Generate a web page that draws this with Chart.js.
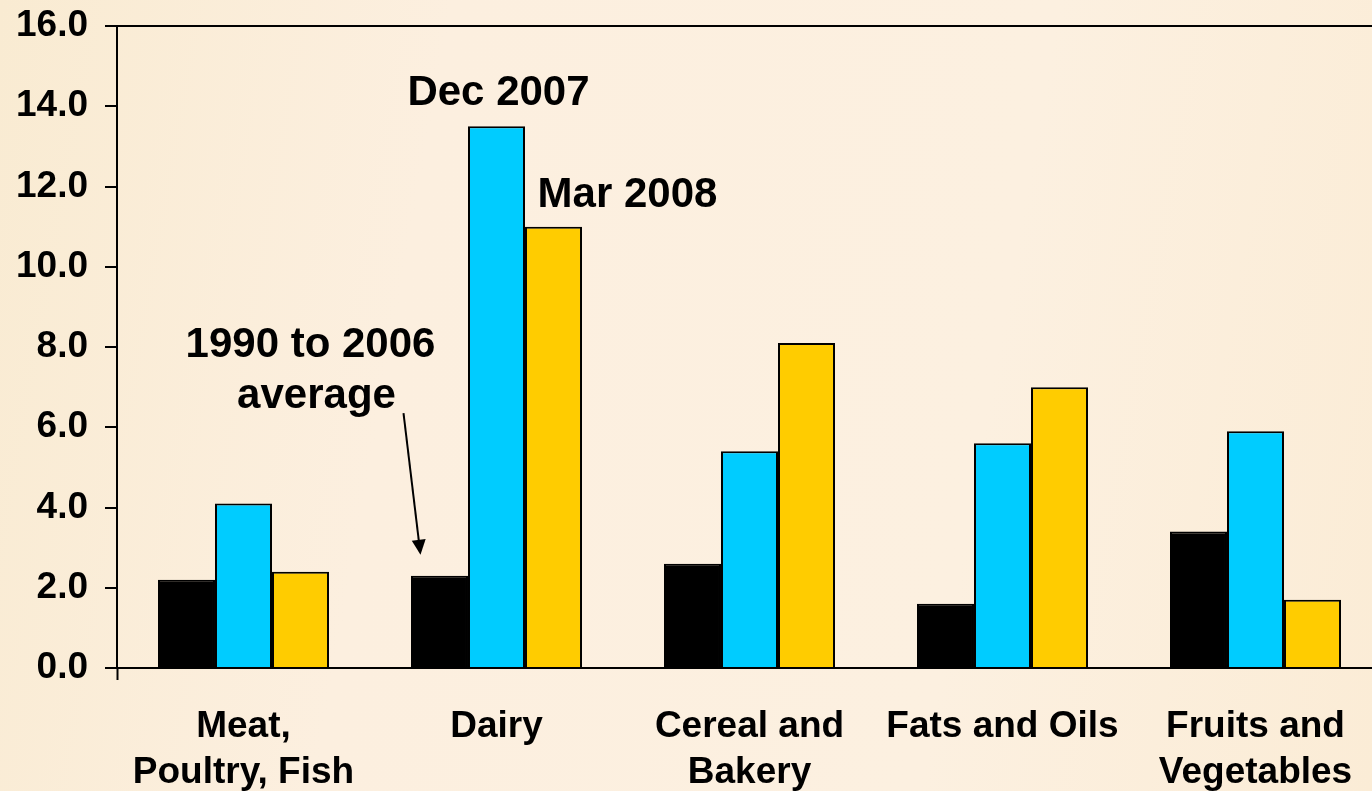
<!DOCTYPE html>
<html>
<head>
<meta charset="utf-8">
<script src="https://cdn.jsdelivr.net/npm/chart.js@4.4.1/dist/chart.umd.min.js"></script>
<style>
  html, body { margin: 0; padding: 0; overflow: hidden; }
  body {
    width: 1372px; height: 791px;
    background: linear-gradient(100deg, #f9ebd2 0%, #fcefdf 30%, #fcf0e0 70%, #fbecd6 100%);
  }
  #wrap { width: 1372px; height: 791px; overflow: hidden; }
</style>
</head>
<body>
<div id="wrap"><canvas id="chart" width="1400" height="791"></canvas></div>
<script>
const categories = [['Meat,', 'Poultry, Fish'], 'Dairy', ['Cereal and', 'Bakery'], 'Fats and Oils', ['Fruits and', 'Vegetables']];
const avg1990to2006 = [2.2, 2.3, 2.6, 1.6, 3.4];
const dec2007 = [4.1, 13.5, 5.4, 5.6, 5.9];
const mar2008 = [2.4, 11.0, 8.1, 7.0, 1.7];
const yTicks = [0, 2, 4, 6, 8, 10, 12, 14, 16];

const FONT = '"Liberation Sans", Arial, sans-serif';

// text callouts drawn on top of the plot
const annotate = {
    id: 'annotate',
    afterDraw(chart) {
        const { ctx, scales: { x, y } } = chart;
        const cx = i => x.getPixelForValue(i);
        ctx.save();
        ctx.fillStyle = '#000';
        ctx.font = 'bold 42px ' + FONT;
        ctx.textAlign = 'center';
        ctx.textBaseline = 'alphabetic';
        ctx.fillText('Dec 2007', cx(1) + 2, y.getPixelForValue(14.03));
        ctx.fillText('Mar 2008', cx(1) + 131, y.getPixelForValue(11.49));
        ctx.fillText('1990 to 2006', cx(0) + 67, y.getPixelForValue(7.75));
        ctx.fillText('average', cx(0) + 73, y.getPixelForValue(6.48));

        // arrow
        const x0 = cx(0) + 160, y0 = y.getPixelForValue(6.35);
        const x1 = cx(0) + 177, y1 = y.getPixelForValue(2.82);
        const ang = Math.atan2(y1 - y0, x1 - x0);
        ctx.strokeStyle = '#000';
        ctx.lineWidth = 2;
        ctx.beginPath();
        ctx.moveTo(x0, y0);
        ctx.lineTo(x1 - 12 * Math.cos(ang), y1 - 12 * Math.sin(ang));
        ctx.stroke();
        ctx.beginPath();
        ctx.moveTo(x1, y1);
        ctx.lineTo(x1 - 15 * Math.cos(ang) + 7 * Math.sin(ang), y1 - 15 * Math.sin(ang) - 7 * Math.cos(ang));
        ctx.lineTo(x1 - 15 * Math.cos(ang) - 7 * Math.sin(ang), y1 - 15 * Math.sin(ang) + 7 * Math.cos(ang));
        ctx.closePath();
        ctx.fill();
        ctx.restore();
    }
};

const barStyle = { borderColor: '#000', borderWidth: 2, barPercentage: 1, categoryPercentage: 0.676 };

new Chart(document.getElementById('chart').getContext('2d'), {
    type: 'bar',
    data: {
        labels: categories,
        datasets: [
            { label: '1990 to 2006 average', data: avg1990to2006, backgroundColor: '#000000', ...barStyle },
            { label: 'Dec 2007', data: dec2007, backgroundColor: '#00ccff', ...barStyle },
            { label: 'Mar 2008', data: mar2008, backgroundColor: '#ffcc00', ...barStyle },
        ],
    },
    options: {
        responsive: false,
        animation: false,
        layout: { padding: { top: 26, right: 18, left: 0, bottom: 0 } },
        plugins: { legend: { display: false }, tooltip: { enabled: false } },
        scales: {
            x: {
                border: { color: '#000', width: 2 },
                grid: {
                    drawOnChartArea: false,
                    tickLength: 12,
                    tickWidth: 2,
                    tickColor: ctx => (ctx.index === 0 ? '#000' : 'rgba(0,0,0,0)'),
                },
                ticks: {
                    color: '#000',
                    padding: 24,
                    maxRotation: 0,
                    autoSkip: false,
                    font: { family: FONT, size: 37, weight: 'bold', lineHeight: 1.24 },
                },
                afterFit: s => { s.height = 123; s.paddingLeft = 0; s.paddingRight = 0; },
            },
            y: {
                min: 0,
                max: 16,
                afterBuildTicks: s => { s.ticks = yTicks.map(v => ({ value: v })); },
                border: { color: '#000', width: 2 },
                grid: {
                    drawOnChartArea: true,
                    color: ctx => (ctx.tick && ctx.tick.value === 16 ? '#000' : 'rgba(0,0,0,0)'),
                    lineWidth: 2,
                    tickLength: 12,
                    tickWidth: 2,
                    tickColor: '#000',
                },
                ticks: {
                    color: '#000',
                    padding: 17,
                    font: { family: FONT, size: 37, weight: 'bold' },
                    callback: v => Number(v).toFixed(1),
                },
                afterFit: s => { s.width = 117; s.paddingTop = 0; s.paddingBottom = 0; },
            },
        },
    },
    plugins: [annotate],
});
</script>
</body>
</html>
